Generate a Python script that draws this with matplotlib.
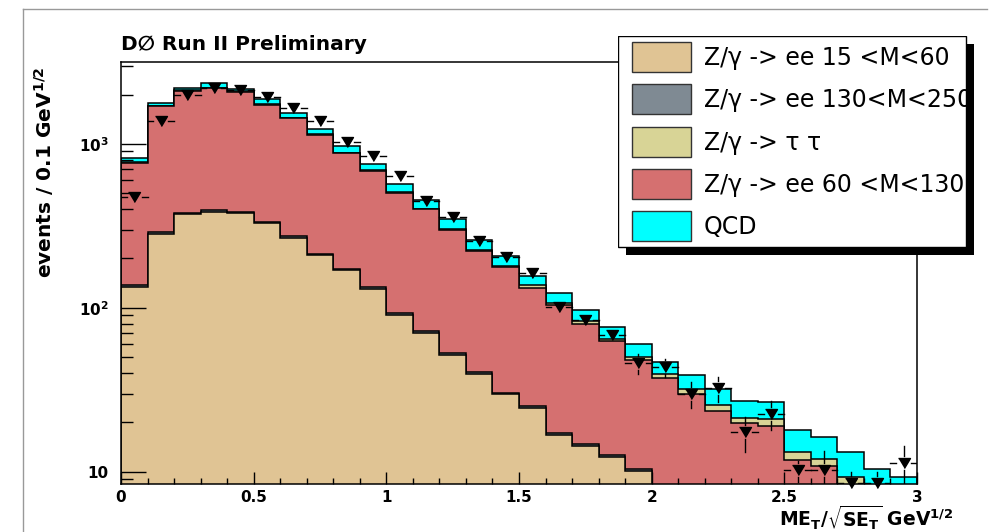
import numpy as np
import matplotlib
matplotlib.use('Agg')
import matplotlib.pyplot as plt
from matplotlib.patches import Rectangle
from matplotlib.lines import Line2D
from matplotlib.ticker import MultipleLocator, NullFormatter, LogLocator

plt.rcParams['font.family'] = ['DejaVu Sans']
plt.rcParams['mathtext.fontset'] = 'dejavusans'
plt.rcParams['mathtext.default'] = 'bf'

# 30 bins of 0.1 GeV^1/2 in MET significance
bin_edges = np.linspace(0.0, 3.0, 31)

# MC components, events / bin
dy_15_60 = [134, 284, 372, 384, 377, 327, 267, 209, 169, 130,
            91, 70.5, 51.5, 39.6, 29.6, 24.4, 16.8, 14.4, 12.3, 10.1,
            7.5, 5.5, 4.5, 3.5, 2.8, 2.0, 1.6, 1.2, 0.9, 0.7]
dy_130_250 = [3, 7, 9, 9, 9, 8, 6.5, 5, 4, 3.2,
              2.2, 1.8, 1.3, 1.0, 0.8, 0.9, 0.45, 0.45, 0.35, 0.25,
              0.2, 0.15, 0.1, 0.1, 0.08, 0.06, 0.05, 0.04, 0.03, 0.02]
dy_60_130 = [633, 1417, 1737, 1808, 1697, 1405, 1163, 927, 703, 555,
             411, 326, 245, 181, 146, 107, 87, 65, 50, 38,
             29.5, 24, 18.9, 16.1, 16.1, 9.8, 9.2, 6.4, 4.6, 3.8]
dy_tautau = [3, 6, 7, 7, 7, 6, 6, 5, 5, 4,
             4, 4, 3, 3, 3, 5, 3.5, 3, 1.6, 1.6,
             2.1, 2.2, 2.0, 1.6, 1.9, 1.3, 1.1, 1.7, 1.2, 1.0]
qcd = [45, 57, 63, 147, 88, 134, 103, 79, 87, 67,
       60, 50, 47, 33, 29, 18, 15, 13.9, 12.1, 9.9,
       7.6, 7.2, 6.3, 5.7, 5.7, 4.7, 4.3, 3.9, 3.7, 3.75]

# data
data = [475, 1380, 1982, 2180, 2120, 1936, 1652, 1371, 1024, 849,
        636, 449, 356, 254, 205, 162, 101.5, 84.1, 68.5, 45.8,
        43.4, 29.8, 32.3, 17.4, 22.5, 10.2, 10.2, 8.5, 8.5, 11.3]
data_err = [20, 35, 42, 45, 44, 42, 38, 35, 30, 28,
            24, 20, 18, 15, 13, 12, 9, 8, 7, 6.5,
            5.5, 5.3, 5.8, 4.2, 4.5, 1.5, 3.2, 1.5, 1.5, 3.0]

labels = ['Z/\u03b3 -> ee 15 <M<60', 'Z/\u03b3 -> ee 130<M<250',
          'Z/\u03b3 -> \u03c4 \u03c4', 'Z/\u03b3 -> ee 60 <M<130', 'QCD']
colors = ['#e0c494', '#7f8a93', '#d8d496', '#d57070', '#00ffff']

ymin, ymax = 10 ** 0.925, 10 ** 3.5

fig = plt.figure(figsize=(9.97, 5.32), dpi=100)
W, H = 997.0, 532.0
ax = fig.add_axes([121 / W, 1 - 484 / H, 796 / W, 422 / H])

# stack order bottom -> top
layers = [(dy_15_60, colors[0]), (dy_130_250, colors[1]), (dy_60_130, colors[3]),
          (dy_tautau, colors[2]), (qcd, colors[4])]
cum = np.cumsum([np.array(v, float) for v, c in layers], axis=0)
for i in range(len(layers) - 1, -1, -1):
    ax.stairs(cum[i], bin_edges, baseline=1e-2, fill=True,
              facecolor=layers[i][1], edgecolor='black', linewidth=1.1, zorder=1)

ax.set_xlim(0, 3)
ax.set_yscale('log')
ax.set_ylim(ymin, ymax)

# error bars with a gap round the marker
x = 0.5 * (bin_edges[:-1] + bin_edges[1:])
y = np.array(data, float)
e = np.array(data_err, float)
bb = ax.get_window_extent()
gap = 7.0 * (np.log10(ymax) - np.log10(ymin)) / bb.height
for xi, yi, ei in zip(x, y, e):
    ax.plot([xi - 0.05, xi - 0.028], [yi, yi], color='black', lw=1.0, zorder=8)
    ax.plot([xi + 0.028, xi + 0.05], [yi, yi], color='black', lw=1.0, zorder=8)
    up, lo = yi * 10 ** gap, yi * 10 ** -gap
    if yi + ei > up:
        ax.plot([xi, xi], [up, yi + ei], color='black', lw=1.0, zorder=8)
    if yi - ei < lo:
        ax.plot([xi, xi], [yi - ei, lo], color='black', lw=1.0, zorder=8)
tri = [(-6, 5), (6, 5), (0, -5)]
ax.plot(x, y, linestyle='none', marker=tri, markersize=8.6, color='black',
        zorder=10, clip_on=False)

ax.set_xticks([0, 0.5, 1, 1.5, 2, 2.5, 3])
ax.set_xticklabels(['0', '0.5', '1', '1.5', '2', '2.5', '3'])
ax.xaxis.set_minor_locator(MultipleLocator(0.1))
ax.set_yticks([10, 100, 1000])
ax.set_yticklabels(['10', '10$^{2}$', '10$^{3}$'])
ax.yaxis.set_minor_locator(LogLocator(base=10, subs=np.arange(2, 10)))
ax.yaxis.set_minor_formatter(NullFormatter())
ax.tick_params(axis='x', which='major', direction='in', length=8.6, width=1,
               pad=4, labelsize=11)
ax.tick_params(axis='x', which='minor', direction='in', length=4.3, width=1)
ax.tick_params(axis='y', which='major', direction='in', length=18, width=1,
               pad=9, labelsize=11)
ax.tick_params(axis='y', which='minor', direction='in', length=8.6, width=1)
for t in ax.get_xticklabels() + ax.get_yticklabels():
    t.set_fontweight('bold')
for s in ax.spines.values():
    s.set_linewidth(1.1)

fig.text(121 / W, 1 - 50 / H, 'D\u2205 Run II Preliminary', fontsize=14.5,
         fontweight='bold', va='baseline', ha='left')
fig.text(44 / W, 1 - 67 / H, 'events / 0.1 GeV$^{1/2}$', fontsize=14.5,
         fontweight='bold', rotation=90, va='top', ha='center')
fig.text(953 / W, 1 - 526 / H, r'ME$_T$/$\sqrt{SE_T}$ GeV$^{1/2}$', fontsize=13.5,
         fontweight='bold', va='baseline', ha='right')

# legend box with a hard shadow
lg = fig.add_axes([618 / W, 1 - 256 / H, 357 / W, 220 / H])
lg.set_zorder(3)
lg.set_xlim(0, 357)
lg.set_ylim(220, 0)
lg.axis('off')
lg.add_patch(Rectangle((8, 8), 348, 211, facecolor='black', edgecolor='none'))
box = Rectangle((0, 0), 348, 211, facecolor='white', edgecolor='black', lw=1.0)
lg.add_patch(box)
rows = [21, 63, 106, 148, 190]
for c, lab, col in zip(rows, labels, colors):
    lg.add_patch(Rectangle((14, c - 15), 59, 30, facecolor=col,
                           edgecolor='#333333', lw=1.0))
    t = lg.text(86, c + 8, lab, fontsize=17, va='baseline', ha='left')
    t.set_clip_path(box)

# pad frame
fig.add_artist(Line2D([23 / W, 987 / W], [1 - 9 / H, 1 - 9 / H], color='#999999', lw=1))
fig.add_artist(Line2D([23 / W, 23 / W], [0, 1 - 9 / H], color='#999999', lw=1))

fig.savefig('out.png', dpi=100)
